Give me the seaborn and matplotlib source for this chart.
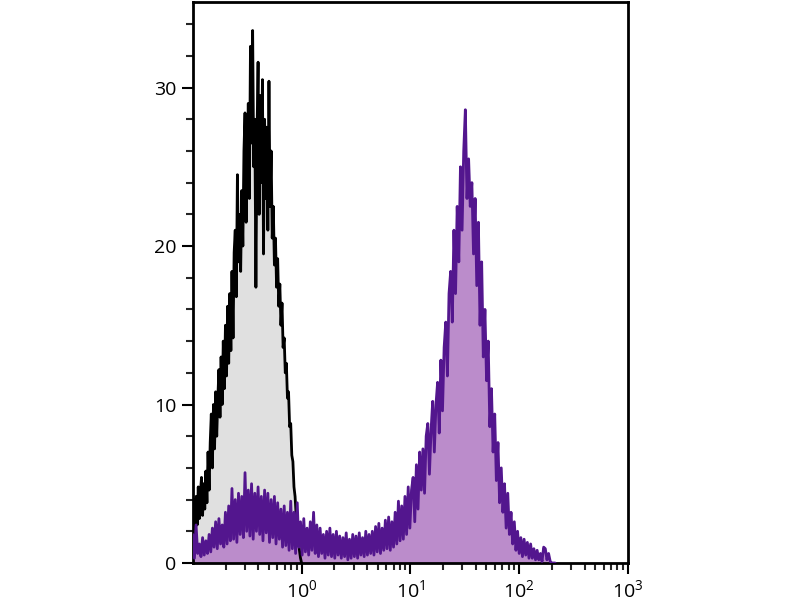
import numpy as np
import pandas as pd
import matplotlib
matplotlib.use("Agg")
import matplotlib.pyplot as plt
import matplotlib.ticker as mticker
import seaborn as sns

# --- data (counts per log-spaced channel) ---
# isotype control (black outline, gray fill): channels from 10^-1.00 in steps of 0.01 decades
control_counts = [
    2.6, 4.0, 1.8, 4.2, 2.4, 4.8, 2.8, 4.4, 5.4, 3.0,
    5.0, 3.4, 5.8, 3.8, 7.0, 4.6, 7.6, 9.4, 6.0, 10.0,
    7.2, 10.8, 8.0, 10.4, 12.2, 9.2, 13.0, 10.0, 14.0, 11.0,
    15.0, 11.8, 16.2, 12.6, 17.0, 13.4, 18.4, 14.2, 19.6, 21.0,
    16.8, 24.5, 19.0, 22.0, 18.4, 23.5, 20.0, 26.0, 28.4, 21.5,
    25.0, 29.0, 23.0, 32.6, 26.5, 33.6, 25.0, 28.0, 17.4, 27.0,
    31.6, 22.0, 29.5, 24.0, 30.5, 19.5, 28.0, 23.0, 27.5, 21.0,
    30.4, 22.5, 26.0, 20.5, 22.5, 18.8, 20.5, 17.4, 19.2, 16.2,
    17.6, 15.0, 16.4, 13.6, 14.2, 12.0, 12.6, 10.4, 10.8, 8.6,
    8.8, 6.8, 6.4, 4.8, 4.2, 3.0, 2.2, 1.4, 0.8, 0.3,
    0.0,
]
control_start, control_step = -1.0, 0.01

# stained sample (purple): channels from 10^-1.00 in steps of 0.015 decades
stained_counts = [
    1.8, 0.3, 2.4, 0.6, 1.2, 0.4, 1.6, 0.5, 1.4, 0.6,
    1.8, 0.7, 2.2, 1.0, 2.6, 0.9, 2.8, 1.2, 2.4, 1.0,
    3.2, 1.2, 3.6, 1.4, 4.7, 1.5, 4.0, 1.3, 4.4, 1.8,
    4.2, 1.6, 5.7, 2.0, 4.6, 1.7, 5.0, 1.5, 4.4, 2.0,
    4.8, 1.8, 4.2, 1.4, 4.6, 1.9, 4.4, 1.3, 4.0, 1.6,
    4.2, 1.2, 3.8, 1.5, 3.4, 1.0, 3.6, 1.1, 3.2, 0.8,
    3.9, 0.9, 3.2, 0.6, 3.8, 1.0, 2.6, 0.5, 2.8, 0.7,
    2.2, 0.5, 2.6, 0.8, 3.2, 0.6, 2.4, 0.4, 2.2, 0.6,
    1.8, 0.3, 2.0, 0.5, 2.2, 0.4, 1.8, 0.3, 2.0, 0.5,
    1.7, 0.3, 1.6, 0.4, 1.9, 0.2, 1.5, 0.3, 1.8, 0.4,
    1.7, 0.3, 1.9, 0.5, 1.6, 0.4, 2.0, 0.5, 1.8, 0.6,
    2.0, 0.5, 2.3, 0.7, 2.5, 0.6, 2.2, 0.8, 2.7, 0.9,
    2.9, 0.8, 2.6, 1.0, 3.2, 1.2, 3.9, 1.4, 3.6, 1.5,
    4.2, 1.8, 4.8, 2.2, 4.6, 5.4, 2.6, 6.2, 3.4, 7.0,
    4.6, 7.2, 4.4, 8.0, 8.8, 5.6, 8.4, 10.2, 7.0, 10.0,
    11.4, 8.2, 12.8, 9.6, 13.6, 15.2, 11.8, 17.0, 18.4, 15.2,
    21.0, 17.0, 22.5, 19.0, 25.0, 21.0, 26.0, 28.6, 23.0, 25.5,
    22.5, 24.0, 19.5, 23.0, 17.5, 21.5, 15.0, 19.0, 13.0, 16.0,
    11.5, 14.0, 8.6, 11.0, 7.0, 9.4, 5.2, 7.6, 3.8, 6.0,
    3.2, 5.0, 2.2, 4.4, 1.8, 3.2, 1.2, 2.6, 0.8, 2.0,
    0.6, 1.6, 0.4, 1.5, 0.5, 1.3, 0.3, 1.2, 0.3, 0.9,
    0.2, 0.8, 0.2, 0.6, 0.1, 1.0, 0.9, 0.2, 0.6, 0.1,
    0.0, 0.0, 0.0,
]
stained_start, stained_step = -1.0, 0.015

x_major_ticks = [1, 10, 100, 1000]
y_major_ticks = [0, 10, 20, 30]

control_x = 10 ** (control_start + control_step * np.arange(len(control_counts)))
stained_x = 10 ** (stained_start + stained_step * np.arange(len(stained_counts)))
df_c = pd.DataFrame({"x": control_x, "y": control_counts})
df_s = pd.DataFrame({"x": stained_x, "y": stained_counts})

sns.set_style("ticks")
plt.rcParams["font.family"] = ["Open Sans", "DejaVu Sans"]
plt.rcParams["mathtext.fontset"] = "custom"
plt.rcParams["mathtext.rm"] = "Open Sans"
plt.rcParams["mathtext.it"] = "Open Sans"
plt.rcParams["mathtext.bf"] = "Open Sans"

fig = plt.figure(figsize=(8, 6), dpi=100)
ax = fig.add_axes([0.241, 0.0617, 0.544, 0.935])

ax.fill_between(df_c["x"], df_c["y"], 0, color="#e0e0e0", lw=0, zorder=1)
ax.fill_between(df_s["x"], df_s["y"], 0, color="#bb8ccb", lw=0, zorder=2)
sns.lineplot(data=df_c, x="x", y="y", ax=ax, color="black", lw=2.0, zorder=3,
             estimator=None, sort=False)
sns.lineplot(data=df_s, x="x", y="y", ax=ax, color="#53168e", lw=2.0, zorder=4,
             estimator=None, sort=False)

ax.set_xscale("log")
ax.set_xlim(0.1, 1000)
ax.set_ylim(0, 35.4)

ax.xaxis.set_major_locator(mticker.FixedLocator(x_major_ticks))
ax.xaxis.set_major_formatter(mticker.LogFormatterMathtext())
ax.xaxis.set_minor_locator(mticker.LogLocator(base=10, subs=np.arange(2, 10), numticks=20))
ax.xaxis.set_minor_formatter(mticker.NullFormatter())
ax.yaxis.set_major_locator(mticker.FixedLocator(y_major_ticks))
ax.yaxis.set_minor_locator(mticker.MultipleLocator(2))

ax.set_xlabel("")
ax.set_ylabel("")
for s in ax.spines.values():
    s.set_visible(True)
    s.set_linewidth(2)
    s.set_color("black")

ax.tick_params(which="major", direction="out", length=8, width=1.5, labelsize=14, colors="black", pad=4)
ax.tick_params(which="minor", direction="out", length=5, width=1.5)

fig.savefig("out.png", dpi=100)
